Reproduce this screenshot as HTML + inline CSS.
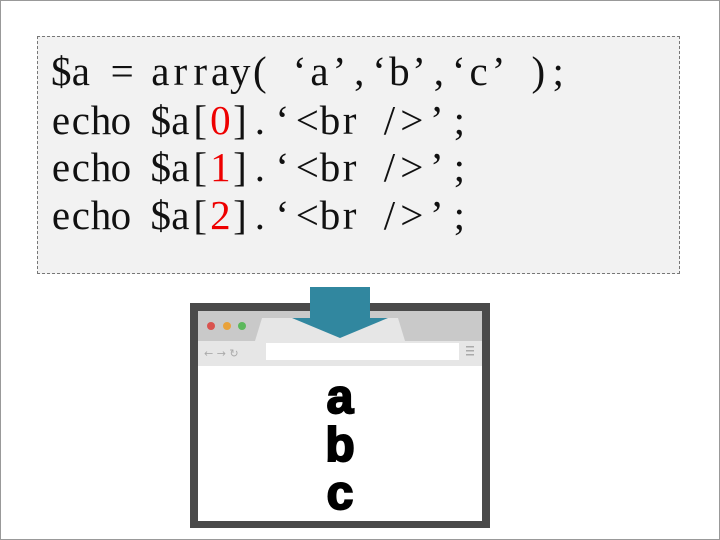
<!DOCTYPE html>
<html><head><style>
html,body{margin:0;padding:0}
body{width:720px;height:540px;position:relative;background:#fff;overflow:hidden}
.frame{position:absolute;left:0;top:0;width:718px;height:538px;border:1px solid #999}
.code{position:absolute;left:37px;top:36px;width:641px;height:236px;border:1px dashed #777;background:#f2f2f2}
.ln{position:absolute;left:13px;font-family:"Liberation Serif",serif;font-size:41px;line-height:48px;color:#111;white-space:pre}
.ln i{font-style:normal;display:inline-block;width:19.9px;text-align:center}
.ln i.w{width:25px}
.r{color:#e00}
.ab{position:absolute;font-family:"Liberation Sans",sans-serif;font-weight:bold;font-size:48px;color:#000;-webkit-text-stroke:2px #000;width:40px;text-align:center;left:320px}
</style></head><body>
<div class="frame"></div>
<div class="code">
<div class="ln" style="top:10px"><i>$</i><i>a</i><i> </i><i>=</i><i> </i><i>a</i><i>r</i><i>r</i><i>a</i><i>y</i><i>(</i><i> </i><i>‘</i><i>a</i><i>’</i><i>,</i><i>‘</i><i>b</i><i>’</i><i>,</i><i>‘</i><i>c</i><i>’</i><i> </i><i>)</i><i>;</i></div>
<div class="ln" style="top:59px"><i>e</i><i>c</i><i>h</i><i>o</i><i> </i><i>$</i><i>a</i><i>[</i><i class="r">0</i><i>]</i><i>.</i><i class="w">‘</i><i class="w">&lt;</i><i>b</i><i>r</i><i> </i><i>/</i><i class="w">&gt;</i><i class="w">’</i><i>;</i></div>
<div class="ln" style="top:106px"><i>e</i><i>c</i><i>h</i><i>o</i><i> </i><i>$</i><i>a</i><i>[</i><i class="r">1</i><i>]</i><i>.</i><i class="w">‘</i><i class="w">&lt;</i><i>b</i><i>r</i><i> </i><i>/</i><i class="w">&gt;</i><i class="w">’</i><i>;</i></div>
<div class="ln" style="top:154px"><i>e</i><i>c</i><i>h</i><i>o</i><i> </i><i>$</i><i>a</i><i>[</i><i class="r">2</i><i>]</i><i>.</i><i class="w">‘</i><i class="w">&lt;</i><i>b</i><i>r</i><i> </i><i>/</i><i class="w">&gt;</i><i class="w">’</i><i>;</i></div>
</div>
<svg style="position:absolute;left:0;top:0" width="720" height="540">
<rect x="190" y="303" width="300" height="225" fill="#4a4a4a"/>
<rect x="198" y="311" width="284" height="210" fill="#fff"/>
<rect x="198" y="311" width="284" height="30" fill="#c9c9c9"/>
<path d="M255 341 L262 318 L398 318 L405 341 Z" fill="#e6e6e6"/>
<rect x="198" y="341" width="284" height="25" fill="#e6e6e6"/>
<rect x="266" y="343" width="193" height="17" fill="#fff"/>
<circle cx="211" cy="326" r="4" fill="#d9534f"/>
<circle cx="227" cy="326" r="4" fill="#e9a23b"/>
<circle cx="242" cy="326" r="4" fill="#5cb85c"/>
<text x="204" y="357" font-family="DejaVu Sans" font-size="11" fill="#aaa">← → ↻</text>
<rect x="466" y="346" width="8" height="1.5" fill="#aaa"/><rect x="466" y="350" width="8" height="1.5" fill="#aaa"/><rect x="466" y="354" width="8" height="1.5" fill="#aaa"/>
<rect x="310" y="287" width="60" height="31" fill="#31879f"/>
<polygon points="292,318 388,318 340,338" fill="#31879f"/>
</svg>
<div class="ab" style="top:370px">a</div>
<div class="ab" style="top:418px">b</div>
<div class="ab" style="top:466px">c</div>
</body></html>
